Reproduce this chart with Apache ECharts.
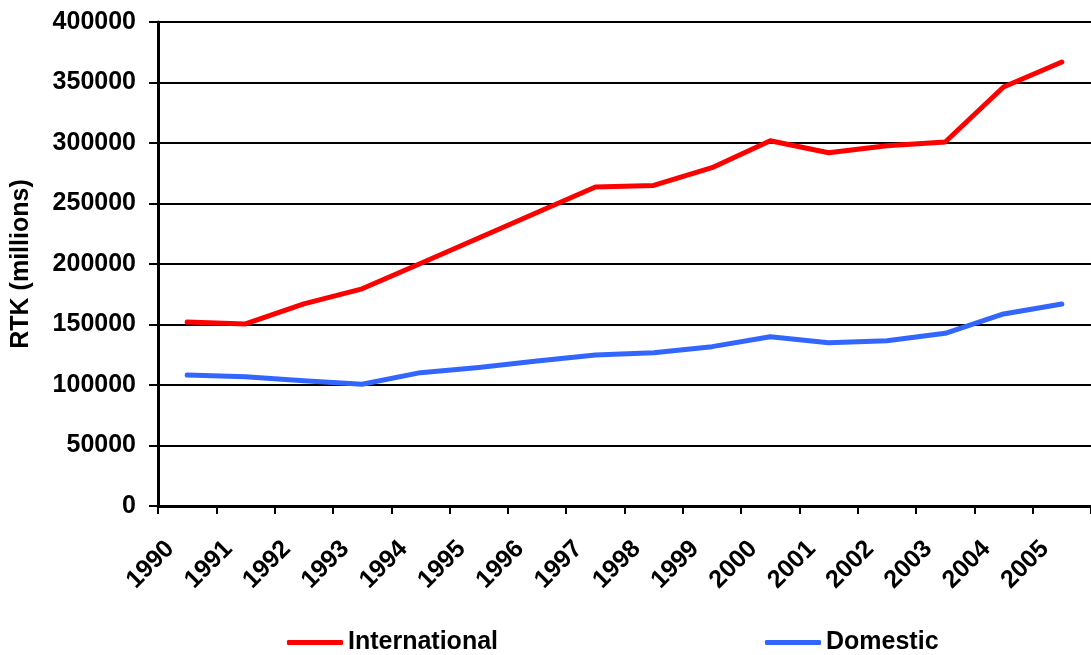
<!DOCTYPE html>
<html>
<head>
<meta charset="utf-8">
<script src="https://cdn.jsdelivr.net/npm/echarts@6/dist/echarts.min.js"></script>
<style>
html,body{margin:0;padding:0;background:#fff;}
#chart{width:1091px;height:655px;}
</style>
</head>
<body>
<div id="chart"></div>
<script>
const years = ['1990','1991','1992','1993','1994','1995','1996','1997','1998','1999','2000','2001','2002','2003','2004','2005'];
const international = [152000,150500,167000,179500,200400,221500,242500,263600,264900,279600,301900,292000,297800,300800,346300,366900];
const domestic = [108300,106900,103500,100600,110200,114500,119800,124800,126700,131700,139900,135000,136600,142700,158700,166900];
const yTicks = {min:0, max:400000, interval:50000};

const FONT = '"Liberation Sans", Arial, sans-serif';
const FS = 25;
const chart = echarts.init(document.getElementById('chart'));
chart.setOption({
  animation:false,
  backgroundColor:'#fff',
  grid:{left:158, right:-8, top:22, bottom:149, containLabel:false},
  legend:[
    {data:['International'], left:282, top:625, icon:'roundRect', itemWidth:56, itemHeight:5, itemGap:5,
     textStyle:{fontFamily:FONT, fontSize:FS, fontWeight:'bold', color:'#000'}},
    {data:['Domestic'], left:760, top:625, icon:'roundRect', itemWidth:56, itemHeight:5, itemGap:5,
     textStyle:{fontFamily:FONT, fontSize:FS, fontWeight:'bold', color:'#000'}}
  ],
  xAxis:{
    type:'category', data:years, boundaryGap:true,
    axisLine:{lineStyle:{color:'#000', width:3}},
    axisTick:{show:true, alignWithLabel:false, length:8, lineStyle:{color:'#000', width:2}},
    axisLabel:{interval:0, rotate:45, margin:22, padding:[0,24,0,0],
      fontFamily:FONT, fontSize:FS, fontWeight:'bold', color:'#000'},
    splitLine:{show:false}
  },
  yAxis:{
    type:'value', min:yTicks.min, max:yTicks.max, interval:yTicks.interval,
    name:'RTK (millions)', nameLocation:'middle', nameGap:124, nameRotate:90,
    nameTextStyle:{fontFamily:FONT, fontSize:FS, fontWeight:'bold', color:'#000'},
    axisLine:{show:true, lineStyle:{color:'#000', width:3}},
    axisTick:{show:true, length:9, lineStyle:{color:'#000', width:2}},
    axisLabel:{margin:22, formatter:function(v){return String(v);},
      fontFamily:FONT, fontSize:FS, fontWeight:'bold', color:'#000'},
    splitLine:{show:true, lineStyle:{color:'#000', width:2}}
  },
  series:[
    {name:'International', type:'line', data:international, symbol:'none', color:'#FF0000',
     lineStyle:{color:'#FF0000', width:5, cap:'round', join:'round'}},
    {name:'Domestic', type:'line', data:domestic, symbol:'none', color:'#3366FF',
     lineStyle:{color:'#3366FF', width:5, cap:'round', join:'round'}}
  ]
});
</script>
</body>
</html>
